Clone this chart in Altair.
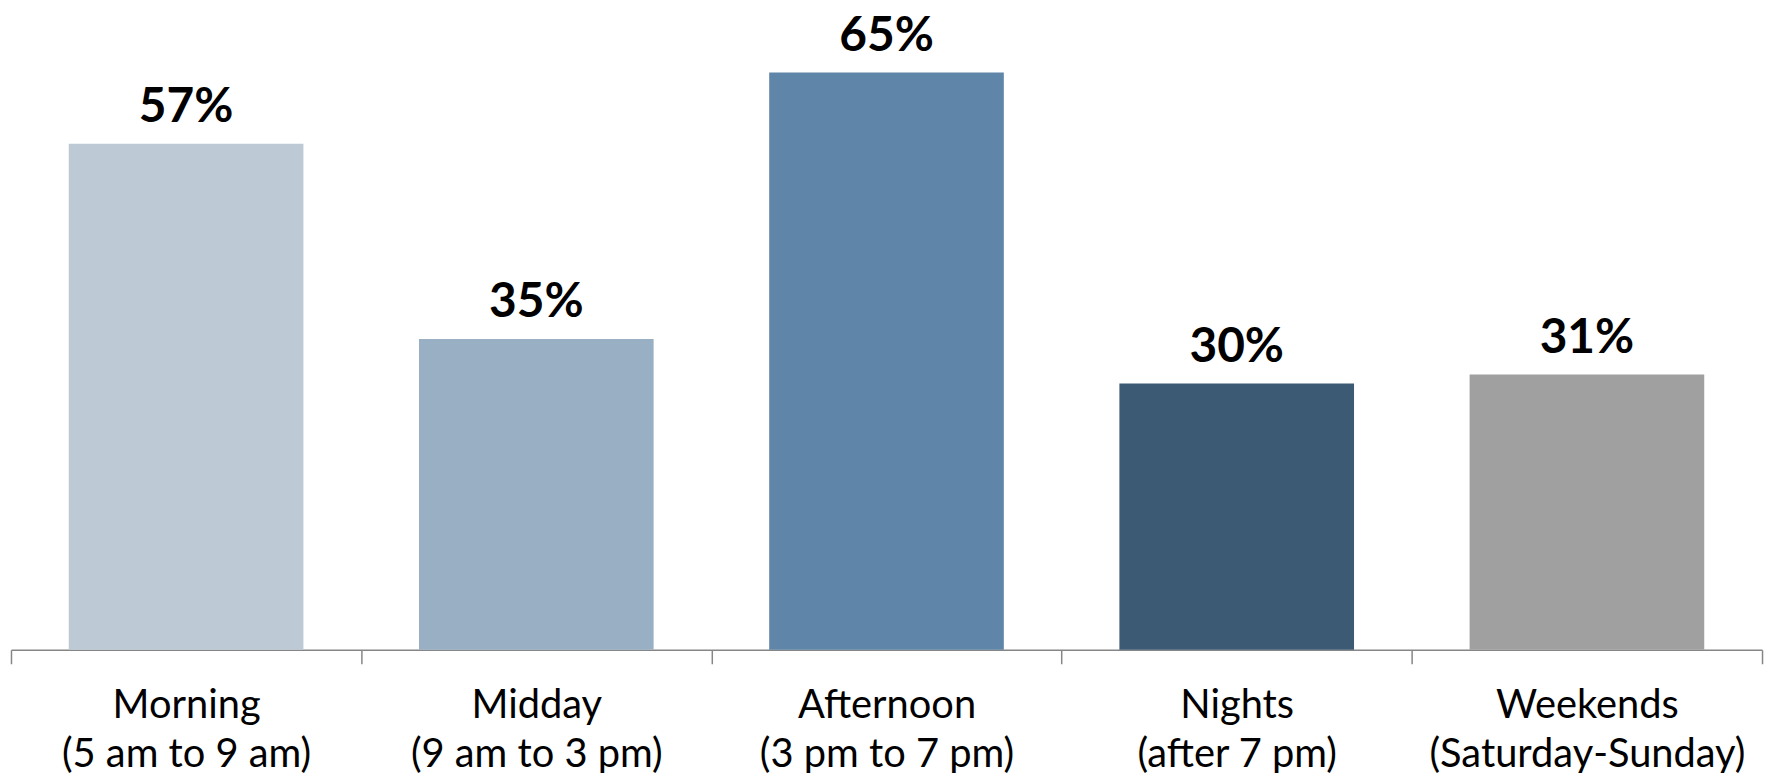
import altair as alt
import pandas as pd

names = ["Morning", "Midday", "Afternoon", "Nights", "Weekends"]
subtitles = ["(5 am to 9 am)", "(9 am to 3 pm)", "(3 pm to 7 pm)", "(after 7 pm)", "(Saturday-Sunday)"]
values = [57, 35, 65, 30, 31]
colors = ["#BDCAD6", "#99AFC4", "#5F86A8", "#3D5A75", "#A0A0A0"]

cats = [f"{n}|{s}" for n, s in zip(names, subtitles)]
df = pd.DataFrame({"cat": cats, "value": values, "label": [f"{v}%" for v in values]})

base = alt.Chart(df).encode(
    x=alt.X(
        "cat:N",
        sort=cats,
        scale=alt.Scale(paddingInner=0, paddingOuter=0),
        axis=alt.Axis(
            title=None,
            labelExpr="split(datum.label, '|')",
            labelAngle=0,
            labelFontSize=40,
            labelFont="Lato",
            labelColor="#000000",
            labelLineHeight=49,
            labelLimit=0,
            labelPadding=22,
            tickBand="extent",
            tickSize=14,
            tickColor="#868686",
            tickWidth=1.5,
            domainColor="#868686",
            domainWidth=1.5,
            grid=False,
        ),
    ),
    y=alt.Y("value:Q", scale=alt.Scale(domain=[0, 69.5]), axis=None),
)

bars = base.mark_bar(width=alt.RelativeBandSize(0.67)).encode(
    color=alt.Color("cat:N", scale=alt.Scale(domain=cats, range=colors), legend=None)
)
text = base.mark_text(
    baseline="alphabetic", dy=-22, fontSize=48, fontWeight="bold", font="Lato", color="#000000"
).encode(text="label:N")

chart = (
    (bars + text)
    .properties(
        width=1759,
        height=620,
        autosize=alt.AutoSizeParams(type="none"),
        padding={"left": 3, "top": 23, "right": 6, "bottom": 122},
    )
    .configure_view(stroke=None)
)

chart.save("out.html", embed_options={"renderer": "svg", "actions": False})
